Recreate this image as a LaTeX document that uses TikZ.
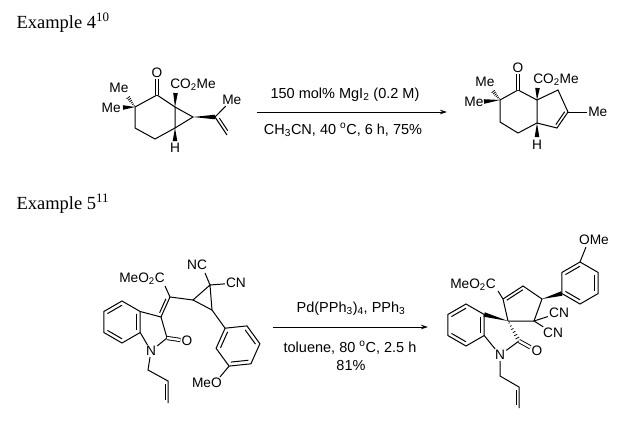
\documentclass[tikz,border=0pt]{standalone}
\usepackage{fontspec}
\setmainfont{Liberation Serif}
\newfontfamily\chemsf{Liberation Sans}
\usetikzlibrary{calc,arrows.meta}
\newcommand{\wedgebond}[2]{\fill (#1) -- ($(#2)!2.3pt!90:(#1)$) -- ($(#2)!2.3pt!-90:(#1)$) -- cycle;}
\newcommand{\hashbond}[2]{%
  \foreach \hi in {0,...,6}{%
    \pgfmathsetmacro{\hfr}{0.1+\hi*0.9/6}%
    \pgfmathsetmacro{\hw}{0.4+2.0*\hfr}%
    \draw[line width=0.75pt] ($(#1)!\hfr!(#2)!\hw pt!90:(#2)$) -- ($(#1)!\hfr!(#2)!\hw pt!-90:(#2)$);%
  }}
\newcommand{\sidebond}[3]{\draw ($(#1)!0.15!(#2)!3pt!#3:(#2)$) -- ($(#2)!0.15!(#1)!3pt!#3:(#2)$);}
\newcommand{\ringin}[3]{\draw ($(#1)!0.2!(#3)$) -- ($(#2)!0.2!(#3)$);}
\begin{document}
\begin{tikzpicture}[x=1pt,y=-1pt, line width=1pt,
  lab/.style={font=\chemsf\fontsize{13.7}{15}\selectfont, inner sep=0.8pt},
  cond/.style={font=\chemsf\fontsize{14.5}{17}\selectfont, inner sep=0pt, anchor=base},
  exlab/.style={font=\fontsize{18.5}{22}\selectfont, inner sep=0pt, anchor=base west},
  rxn/.style={line width=0.9pt, -{Stealth[length=7pt,width=4.5pt]}},
  dbl/.style={double, double distance=2.4pt, line width=0.9pt}]
\useasboundingbox[fill=white] (0,0) rectangle (640,423);

% titles
\node[exlab] (ex4) at (16,28) {Example 4\textsuperscript{10}};
\node[exlab] (ex5) at (16,209) {Example 5\textsuperscript{11}};

% ---------- molecule 1 ----------
\coordinate (m1a) at (135,107);
\coordinate (m1b) at (157,95);
\coordinate (m1c) at (175,107);
\coordinate (m1d) at (175,128);
\coordinate (m1e) at (155,139);
\coordinate (m1f) at (135,128);
\coordinate (m1g) at (193,117);
\coordinate (m1h) at (215,117);
\coordinate (m1i) at (227,135);
\node[lab] (m1o) at (157,73) {O};
\node[lab] (m1me1) at (119,88) {Me};
\node[lab, anchor=east] (m1me2) at (122,108) {Me};
\node[lab, anchor=west] (m1co) at (169,85) {CO\textsubscript{2}Me};
\node[lab] (m1hh) at (175,148) {H};
\node[lab, anchor=west] (m1me3) at (221,100) {Me};
\coordinate (m1me1end) at (127,96);
\coordinate (m1me2end) at (123,107.5);
\coordinate (m1coend) at (175.5,93);
\coordinate (m1hend) at (175,141);
\draw (m1a) -- (m1b) -- (m1c) -- (m1d) -- (m1e) -- (m1f) -- cycle;
\draw (m1c) -- (m1g) -- (m1d);
\draw[dbl] (m1b) -- (m1o);
\hashbond{m1a}{m1me1end}
\wedgebond{m1a}{m1me2end}
\wedgebond{m1c}{m1coend}
\wedgebond{m1d}{m1hend}
\wedgebond{m1g}{m1h}
\draw (m1h) -- (m1me3);
\draw (m1h) -- (m1i);
\sidebond{m1h}{m1i}{90}

% ---------- arrow 1 ----------
\coordinate (a1s) at (257,112);
\coordinate (a1e) at (447,112);
\draw[rxn] (a1s) -- (a1e);
\node[cond] (c1t) at (345,98) {150 mol\% MgI\textsubscript{2} (0.2 M)};
\node[cond] (c1b) at (343,134) {CH\textsubscript{3}CN, 40 \textsuperscript{o}C, 6 h, 75\%};

% ---------- molecule 2 ----------
\coordinate (m2a) at (518,90);
\coordinate (m2b) at (500,100);
\coordinate (m2c) at (500,122);
\coordinate (m2d) at (518,133);
\coordinate (m2e) at (537,123);
\coordinate (m2f) at (537,100);
\coordinate (m2g) at (558,90);
\coordinate (m2h) at (568,112);
\coordinate (m2i) at (557,128);
\coordinate (m2cen) at (551.4,110.6);
\node[lab] (m2o) at (518,68) {O};
\node[lab] (m2me1) at (485,82) {Me};
\node[lab] (m2me2) at (474,102) {Me};
\node[lab, anchor=west] (m2co) at (532,80) {CO\textsubscript{2}Me};
\node[lab] (m2hh) at (537,145) {H};
\node[lab, anchor=west] (m2me3) at (587,112) {Me};
\coordinate (m2me1end) at (492,90);
\coordinate (m2me2end) at (484,101.5);
\coordinate (m2coend) at (537.5,88);
\coordinate (m2hend) at (537,137);
\draw (m2a) -- (m2b) -- (m2c) -- (m2d) -- (m2e) -- (m2f) -- cycle;
\draw (m2f) -- (m2g) -- (m2h) -- (m2i) -- (m2e);
\ringin{m2h}{m2i}{m2cen}
\draw[dbl] (m2a) -- (m2o);
\hashbond{m2b}{m2me1end}
\wedgebond{m2b}{m2me2end}
\wedgebond{m2f}{m2coend}
\wedgebond{m2e}{m2hend}
\draw (m2h) -- (m2me3);

% ---------- molecule 3 ----------
\coordinate (m3b1) at (122,301);
\coordinate (m3b2) at (140.19,311.5);
\coordinate (m3b3) at (140.19,332.5);
\coordinate (m3b4) at (122,343);
\coordinate (m3b5) at (103.81,332.5);
\coordinate (m3b6) at (103.81,311.5);
\coordinate (m3bc) at (122,322);
\coordinate (m3c3) at (161,317);
\coordinate (m3c2) at (167,338);
\node[lab] (m3n) at (151,351) {N};
\node[lab] (m3o) at (187,341) {O};
\coordinate (m3x) at (170,297);
\node[lab, anchor=east] (m3est) at (166,279) {MeO\textsubscript{2}C};
\coordinate (m3estend) at (165,286);
\coordinate (m3p1) at (193,300);
\coordinate (m3p2) at (210,285);
\coordinate (m3p3) at (212,310);
\node[lab] (m3nc) at (197,265) {NC};
\coordinate (m3ncend) at (205,273);
\node[lab] (m3cn) at (236,283) {CN};
\coordinate (m3r1) at (225.07,328.20);
\coordinate (m3r2) at (246.95,325.90);
\coordinate (m3r3) at (259.88,343.70);
\coordinate (m3r4) at (250.93,363.80);
\coordinate (m3r5) at (229.05,366.10);
\coordinate (m3r6) at (216.12,348.30);
\coordinate (m3rc) at (238,346);
\node[lab, anchor=east] (m3meo) at (223,383) {MeO};
\coordinate (m3meoend) at (220,377);
\coordinate (m3a1) at (148,370);
\coordinate (m3a2) at (168,381);
\coordinate (m3a3) at (168,403);
\draw (m3b1) -- (m3b2) -- (m3b3) -- (m3b4) -- (m3b5) -- (m3b6) -- cycle;
\ringin{m3b6}{m3b1}{m3bc}
\ringin{m3b2}{m3b3}{m3bc}
\ringin{m3b4}{m3b5}{m3bc}
\draw (m3b2) -- (m3c3) -- (m3c2);
\draw (m3c2) -- (m3n) -- (m3b3);
\draw[dbl] (m3c2) -- (m3o);
\draw (m3c3) -- (m3x);
\sidebond{m3c3}{m3x}{90}
\draw (m3x) -- (m3estend);
\draw (m3x) -- (m3p1);
\draw (m3p1) -- (m3p2) -- (m3p3) -- cycle;
\draw (m3p2) -- (m3ncend);
\draw (m3p2) -- (m3cn);
\draw (m3p3) -- (m3r1);
\draw (m3r1) -- (m3r2) -- (m3r3) -- (m3r4) -- (m3r5) -- (m3r6) -- cycle;
\ringin{m3r2}{m3r3}{m3rc}
\ringin{m3r4}{m3r5}{m3rc}
\ringin{m3r6}{m3r1}{m3rc}
\draw (m3r5) -- (m3meoend);
\draw (m3n) -- (m3a1) -- (m3a2) -- (m3a3);
\sidebond{m3a2}{m3a3}{-90}

% ---------- arrow 2 ----------
\coordinate (a2s) at (273,327);
\coordinate (a2e) at (428,327);
\draw[rxn] (a2s) -- (a2e);
\node[cond] (c2t) at (351,312) {Pd(PPh\textsubscript{3})\textsubscript{4}, PPh\textsubscript{3}};
\node[cond] (c2b) at (350,352) {toluene, 80 \textsuperscript{o}C, 2.5 h};
\node[cond] (c2y) at (351,370) {81\%};

% ---------- molecule 4 ----------
\coordinate (m4b1) at (466,304);
\coordinate (m4b2) at (484.19,314.5);
\coordinate (m4b3) at (484.19,335.5);
\coordinate (m4b4) at (466,346);
\coordinate (m4b5) at (447.81,335.5);
\coordinate (m4b6) at (447.81,314.5);
\coordinate (m4bc) at (466,325);
\coordinate (m4s) at (508,321);
\coordinate (m4c2) at (519,341);
\node[lab] (m4n) at (500,355) {N};
\node[lab] (m4o) at (537,351) {O};
\coordinate (m4p1) at (503,299);
\coordinate (m4p2) at (523,286);
\coordinate (m4p3) at (542,299);
\coordinate (m4p4) at (534,321);
\coordinate (m4pc) at (522,305);
\node[lab, anchor=east] (m4est) at (497,285) {MeO\textsubscript{2}C};
\coordinate (m4estend) at (498,291);
\node[lab] (m4cn1) at (559,313) {CN};
\node[lab] (m4cn2) at (553,333) {CN};
\coordinate (m4r1) at (580,262);
\coordinate (m4r2) at (598.19,272.5);
\coordinate (m4r3) at (598.19,293.5);
\coordinate (m4r4) at (580,304);
\coordinate (m4r5) at (561.81,293.5);
\coordinate (m4r6) at (561.81,272.5);
\coordinate (m4rc) at (580,283);
\node[lab] (m4ome) at (594,240) {OMe};
\coordinate (m4omeend) at (586,247);
\coordinate (m4a1) at (500,376);
\coordinate (m4a2) at (519,387);
\coordinate (m4a3) at (519,408);
\draw (m4b1) -- (m4b2) -- (m4b3) -- (m4b4) -- (m4b5) -- (m4b6) -- cycle;
\ringin{m4b6}{m4b1}{m4bc}
\ringin{m4b2}{m4b3}{m4bc}
\ringin{m4b4}{m4b5}{m4bc}
\wedgebond{m4s}{m4b2}
\hashbond{m4s}{m4c2}
\draw (m4c2) -- (m4n) -- (m4b3);
\draw[dbl] (m4c2) -- (m4o);
\draw (m4s) -- (m4p1) -- (m4p2) -- (m4p3) -- (m4p4) -- (m4s);
\ringin{m4p1}{m4p2}{m4pc}
\draw (m4p1) -- (m4estend);
\wedgebond{m4p3}{m4r5}
\draw (m4r1) -- (m4r2) -- (m4r3) -- (m4r4) -- (m4r5) -- (m4r6) -- cycle;
\ringin{m4r6}{m4r1}{m4rc}
\ringin{m4r2}{m4r3}{m4rc}
\ringin{m4r4}{m4r5}{m4rc}
\draw (m4r1) -- (m4omeend);
\draw (m4p4) -- (m4cn1);
\draw (m4p4) -- (m4cn2);
\draw (m4n) -- (m4a1) -- (m4a2) -- (m4a3);
\sidebond{m4a2}{m4a3}{-90}
\end{tikzpicture}
\end{document}
